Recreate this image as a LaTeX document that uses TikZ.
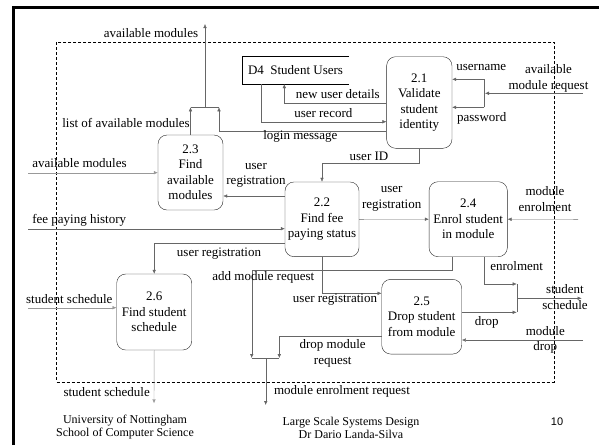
\documentclass[tikz,border=0pt]{standalone}
\usepackage{fontspec}
\setmainfont{Liberation Serif}
\newfontfamily\pagenum{Liberation Sans}
\usetikzlibrary{arrows.meta}

\begin{document}
\begin{tikzpicture}[x=1pt,y=-1pt,
    font=\fontsize{13}{15.5}\selectfont,
    process/.style={draw=black!85,rounded corners=9pt,align=center,inner sep=0pt},
    lbl/.style={align=center,inner sep=0pt},
    flow/.style={draw=black!60,-{Latex[length=4pt,width=3.5pt]}},
    flowline/.style={draw=black!60},
    lightflow/.style={draw=black!40,-{Latex[length=4pt,width=3.5pt]}}]
            \useasboundingbox (0,0) rectangle (599,445);
            \draw[line width=3pt] (13.3,445) -- (13.3,7) -- (599,7);
            \draw[densely dashed] (56,42.3) rectangle (554.3,381.7);

            % processes
            \node[process,minimum width=65.3,minimum height=91.6] (p21) at (419.3,102.5) {2.1\\Validate\\student\\identity};
            \node[process,minimum width=74,minimum height=74.7] (p22) at (322,219.3) {2.2\\Find fee\\paying status};
            \node[process,minimum width=65,minimum height=75] (p23) at (190.5,172.5) {2.3\\Find\\available\\modules};
            \node[process,minimum width=78.3,minimum height=75] (p24) at (468.2,219.2) {2.4\\Enrol student\\in module};
            \node[process,minimum width=80,minimum height=74.7] (p25) at (421.7,316.7) {2.5\\Drop student\\from module};
            \node[process,minimum width=75,minimum height=76] (p26) at (154.2,312) {2.6\\Find student\\schedule};

            % data store
            \node[inner sep=0pt,minimum width=107,minimum height=28] (d4) at (295.5,70) {D4\ \ Student Users};
            \draw (d4.north east) -- (d4.north west) -- (d4.south west) -- (d4.south east);

            % free ends
            \coordinate (outAvail) at (205,24);
            \coordinate (upbar) at (205,107.3);
            \coordinate (inAvailReq) at (582.7,93.3);
            \coordinate (inAvail) at (28,172.7);
            \coordinate (inFee) at (28,228.7);
            \coordinate (inEnrol) at (578,219.3);
            \coordinate (inSched) at (28,307.7);
            \coordinate (inDrop) at (583,340);
            \coordinate (outSched) at (154,403.3);
            \coordinate (outSchedR) at (581.7,298.3);
            \coordinate (outEnrolReq) at (265.7,405);
            \coordinate (lowbar) at (265.7,358);
            \coordinate (rightbar) at (517.3,298.3);

            % flows round 2.1
            \draw[flow] (p23.north) -- (p23.north |- upbar);
            \draw[flow] (p21.west |- 0,130.7) -| (219,107.3);
            \draw[flowline] (p23.north |- upbar) -- (219,107.3);
            \draw[flow] (upbar) -- (outAvail);
            \draw[flow] (p21.west |- 0,102.7) -| (d4.south -| 284.3,0);
            \draw[flow] (d4.south -| 261,0) |- (p21.west |- 0,121.7);
            \draw[flow] (inAvailReq) -- (485,93.3);
            \draw[flowline] (484.3,79.3) -- (484.3,107.3);
            \draw[flow] (484.3,79.3) -- (p21.east |- 0,79.3);
            \draw[flow] (484.3,107.3) -- (p21.east |- 0,107.3);
            \draw[flow] (p21.south) -- ++(0,15) -| (p22.north);

            % flows round 2.2
            \draw[lightflow] (inAvail) -- (p23.west |- inAvail);
            \draw[flow] (p22.west |- 0,196) -- (p23.east |- 0,196);
            \draw[flow] (inFee) -- (p22.west |- inFee);
            \draw[flow] (p22.west |- 0,242.7) -| (p26.north);
            \draw[flow] (p22.east) -- (p24.west);
            \draw[flow] (inEnrol) -- (p24.east);
            \draw[flow] (p22.south) |- (p25.west |- 0,293.3);

            % module enrolment request
            \draw[flow] (p24.south -| 452.3,0) |- (251.7,270) -- (251.7,358);
            \draw[flow] (p25.west |- 0,335.7) -| (279.3,358);
            \draw[flowline] (251.7,358) -- (279.3,358);
            \draw[flow] (lowbar) -- (outEnrolReq);

            % student schedule
            \draw[flow] (p24.south -| 484.3,0) |- (516.7,284);
            \draw[flow] (p25.east |- 0,312.3) -- (516.7,312.3);
            \draw[flowline] (517.3,284) -- (517.3,312.3);
            \draw[flow] (rightbar) -- (outSchedR);
            \draw[flow] (inDrop) -- (p25.east |- inDrop);
            \draw[lightflow] (inSched) -- (p26.west |- inSched);
            \draw[lightflow] (p26.south) -- (outSched);

            % labels
            \node[lbl] (lAvailOut) at (151,33) {available modules};
            \node[lbl] (lList) at (126,123) {list of available modules};
            \node[lbl] (lNewUser) at (337.8,94) {new user details};
            \node[lbl] (lUserRec) at (323.3,113.3) {user record};
            \node[lbl] (lLogin) at (300.3,136.7) {login message};
            \node[lbl] (lUsername) at (481.3,67.3) {username};
            \node[lbl] (lPassword) at (481.7,118.3) {password};
            \node[lbl] (lAvailReq) at (548.5,78.3) {available\\module request};
            \node[lbl] (lUserID) at (369,156) {user ID};
            \node[lbl] (lAvail23) at (79.5,163) {available modules};
            \node[lbl] (lReg23) at (256,175.5) {user\\registration};
            \node[lbl] (lFee) at (79.2,220) {fee paying history};
            \node[lbl] (lReg24) at (391.7,199) {user\\registration};
            \node[lbl] (lModEnrol) at (545,199) {module\\enrolment};
            \node[lbl] (lReg26) at (219,253.3) {user registration};
            \node[lbl] (lAddMod) at (263.3,277.3) {add module request};
            \node[lbl] (lEnrolment) at (516.7,266) {enrolment};
            \node[lbl] (lReg25) at (335,300) {user registration};
            \node[lbl] (lSchedR) at (565,297) {student\\schedule};
            \node[lbl] (lDrop) at (486.7,322.3) {drop};
            \node[lbl] (lModDrop) at (545.3,340) {module\\drop};
            \node[lbl] (lDropMod) at (332.7,353.2) {drop module\\request};
            \node[lbl] (lSchedIn) at (69.3,299.3) {student schedule};
            \node[lbl] (lSchedOut) at (106.7,391.7) {student schedule};
            \node[lbl] (lEnrolReq) at (342,391.7) {module enrolment request};

            % footer
            \node[lbl,font=\fontsize{12}{13.3}\selectfont] (uni) at (125,427.3) {University of Nottingham\\School of Computer Science};
            \node[lbl,font=\fontsize{12}{13.3}\selectfont] (course) at (351,428) {Large Scale Systems Design\\Dr Dario Landa-Silva};
            \node[lbl,font=\pagenum\fontsize{11}{13}\selectfont] (page) at (557,421.7) {10};
        \end{tikzpicture}
\end{document}
